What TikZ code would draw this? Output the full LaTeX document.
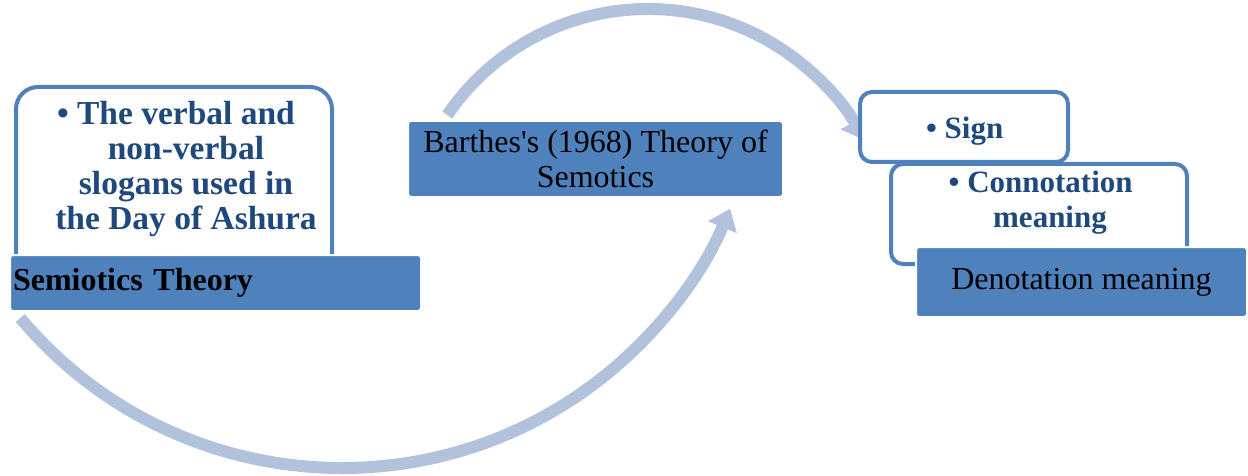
\documentclass[tikz,border=0pt]{standalone}
\usepackage{fontspec}
\setmainfont{Liberation Serif}
\usetikzlibrary{arrows.meta,calc,positioning}
\definecolor{accentblue}{RGB}{79,129,189}
\definecolor{darkblue}{RGB}{31,73,125}
\definecolor{arrowblue}{RGB}{179,194,220}

\begin{document}
\begin{tikzpicture}[x=1pt,y=-1pt,
  outbox/.style={draw=accentblue,line width=4pt,fill=white,rounded corners=#1,
    anchor=north west,inner sep=0pt},
  outbox/.default=12pt,
  fillbox/.style={fill=accentblue,draw=white,line width=2pt,rounded corners=3pt,
    anchor=north west,inner sep=0pt},
  bulletext/.style={text=darkblue,align=center,
    font=\fontsize{#1}{35}\selectfont\bfseries},
  bulletext/.default=31,
  bigarrow/.style={draw=arrowblue,line width=12pt,
    -{Triangle[length=20pt,width=30pt]}}]
  \useasboundingbox (0,0) rectangle (1248,476);

  % curved arrows behind the boxes
  \coordinate (topc) at (648,252);
  \coordinate (botc) at (342,48);
  \draw[bigarrow] ($(topc)+(145.7:243pt)$)
    arc[start angle=145.7,end angle=27.5,radius=243pt];
  \draw[bigarrow] ($(botc)+(220:420pt)$)
    arc[start angle=220,end angle=337.5,radius=420pt];

  % left part
  \node[outbox=22pt,minimum width=316pt,minimum height=200pt] (slogbox) at (14,85) {};
  \node[bulletext=33.5] (slogtext) at (186,169)
    {\llap{\textbullet\ }The verbal and\\non-verbal\\slogans used in\\the Day of Ashura};
  \node[fillbox,minimum height=56pt,text width=405pt,inner xsep=3pt,align=left,
    font=\fontsize{32}{35}\selectfont\bfseries] (semiobar) at (9,254) {Semiotics Theory};

  % middle
  \node[fillbox,minimum width=375pt,minimum height=76pt,align=center,
    font=\fontsize{32}{35}\selectfont] (barthes) at (407,120)
    {Barthes\textquotesingle s (1968) Theory of\\Semotics};

  % right part
  \node[outbox,minimum width=208pt,minimum height=70pt] (signbox) at (858,90) {};
  \node[bulletext] (signtext) at (974,131) {\llap{\textbullet\ }Sign};
  \node[outbox,minimum width=296pt,minimum height=100pt] (connbox) at (889,162) {};
  \node[bulletext] (conntext) at (1050,203) {\llap{\textbullet\ }Connotation\\meaning};
  \node[fillbox,minimum width=331pt,minimum height=70pt,
    font=\fontsize{32}{35}\selectfont] (denobar) at (915,246) {Denotation meaning};
\end{tikzpicture}
\end{document}
